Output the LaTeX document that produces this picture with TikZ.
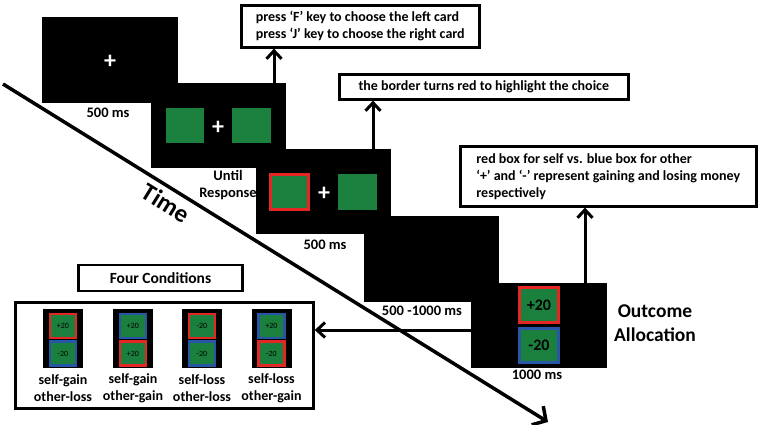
\documentclass[tikz,border=0pt]{standalone}
\usepackage{fontspec}
\setmainfont{Carlito}
\usetikzlibrary{arrows.meta}
\definecolor{cgreen}{RGB}{27,128,62}
\definecolor{cred}{RGB}{228,38,36}
\definecolor{cblue}{RGB}{40,86,166}
\begin{document}
\begin{tikzpicture}[x=1pt,y=-1pt,
  font=\bfseries,
  screen/.style={fill=black,draw=none,inner sep=0pt,anchor=north west},
  plain/.style={fill=cgreen,draw=none,inner sep=0pt},
  framed/.style={fill=cgreen,draw=#1,line width=3pt,inner sep=0pt},
  minisq/.style={fill=cgreen,draw=#1,line width=2.2pt,inner sep=0pt,minimum width=26pt,minimum height=24pt,font=\fontsize{8}{9}\selectfont},
  plus/.style={text=white,inner sep=0pt,font=\fontsize{24}{24}\selectfont\bfseries},
  tbox/.style={draw=black,line width=2.6pt,fill=white,anchor=north west,inner xsep=5pt,inner ysep=0pt,align=left,font=\fontsize{14}{17}\selectfont\bfseries},
  lbl/.style={inner sep=0pt,align=center,font=\fontsize{14.5}{17}\selectfont\bfseries},
  conn/.style={line width=3pt,-{Straight Barb[length=8pt,width=15pt,line width=3pt]}}
]
\useasboundingbox (0,0) rectangle (760,424);

% screens
\node[screen,minimum width=136pt,minimum height=86pt] (box1) at (42,17) {};
\node[plus] (p1) at (110,62) {+};
\node[lbl] (l1) at (108,113) {500 ms};

\node[screen,minimum width=135pt,minimum height=85pt] (box2) at (151,83) {};
\node[plain,minimum width=38pt,minimum height=35pt] (g2a) at (185,125) {};
\node[plain,minimum width=39pt,minimum height=35pt] (g2b) at (251.5,125.5) {};
\node[plus] (p2) at (218,128) {+};
\node[lbl] (l2) at (228,185.5) {Until\\Response};

\node[screen,minimum width=135pt,minimum height=85pt] (box3) at (256,149) {};
\node[framed=cred,minimum width=38pt,minimum height=35pt] (r3) at (289,191.5) {};
\node[plain,minimum width=39pt,minimum height=36pt] (g3) at (357.5,192) {};
\node[plus] (p3) at (324,194) {+};
\node[lbl] (l3) at (325,245) {500 ms};

\node[screen,minimum width=135pt,minimum height=86pt] (box4) at (364,216) {};
\node[lbl] (l4) at (422,311) {500 -1000 ms};

\node[screen,minimum width=136pt,minimum height=85pt] (box5) at (471,283) {};
\node[framed=cred,minimum width=39pt,minimum height=35pt,font=\fontsize{16}{16}\selectfont\bfseries] (r5) at (539,305) {+20};
\node[framed=cblue,minimum width=39pt,minimum height=34pt,font=\fontsize{16}{16}\selectfont\bfseries] (b5) at (539,345.5) {-20};
\node[lbl] (l5) at (537,375) {1000 ms};
\node[inner sep=0pt,align=center,font=\fontsize{19.5}{24}\selectfont\bfseries] (oa) at (655,323) {Outcome\\Allocation};

% text boxes
\node[tbox,minimum width=238pt,minimum height=42pt] (tb1) at (240,4)
  {press ‘F’ key to choose the left card\\press ‘J’ key to choose the right card};
\node[tbox,minimum width=289pt,minimum height=25pt,align=center] (tb2) at (338,73)
  {the border turns red to highlight the choice};
\node[tbox,minimum width=296pt,minimum height=60pt] (tb3) at (459,145)
  {red box for self vs. blue box for other\\‘+’ and ‘-’ represent gaining and losing money\\respectively};

% conditions
\node[draw=black,line width=2.6pt,minimum width=164pt,minimum height=26pt,inner sep=0pt,font=\fontsize{15.5}{16}\selectfont\bfseries] (fc) at (160.5,278) {Four Conditions};
\node[draw=black,line width=2.6pt,minimum width=298pt,minimum height=106pt,inner sep=0pt] (cond) at (164.5,355.5) {};

\foreach \i/\x/\tc/\tt/\bc/\bt/\la/\lb in {
  1/63/cred/+20/cblue/-20/self-gain/other-loss,
  2/133/cblue/+20/cred/+20/self-gain/other-gain,
  3/202/cred/-20/cblue/-20/self-loss/other-loss,
  4/271.5/cblue/+20/cred/-20/self-loss/other-gain}{
  \node[fill=black,inner sep=0pt,minimum width=40pt,minimum height=59pt] (card\i) at (\x,338.5) {};
  \node[minisq=\tc] (ct\i) at (\x,326) {\tt};
  \node[minisq=\bc] (cb\i) at (\x,353.5) {\bt};
  \node[inner sep=0pt,align=center,font=\fontsize{14}{17}\selectfont\bfseries] (cl\i) at (\x,388.5) {\la\\\lb};
}

% connectors
\coordinate (a1) at (274,0);
\coordinate (a2) at (373,0);
\coordinate (a3) at (585,0);
\coordinate (a4) at (0,330);
\draw[conn] (box2.north -| a1) -- (tb1.south -| a1);
\draw[conn] (box3.north -| a2) -- (tb2.south -| a2);
\draw[conn] (box5.north -| a3) -- (tb3.south -| a3);
\draw[conn] (box5.west |- a4) -- (cond.east |- a4);

% time axis
\coordinate (ts) at (3,84);
\coordinate (te) at (548,422);
\draw[line width=3.5pt,-{Straight Barb[length=10pt,width=22pt,line width=3.5pt]}] (ts) -- (te);
\node[rotate=-31.8,inner sep=0pt,font=\fontsize{25}{25}\selectfont\bfseries] (time) at (166,203) {Time};
\end{tikzpicture}
\end{document}
